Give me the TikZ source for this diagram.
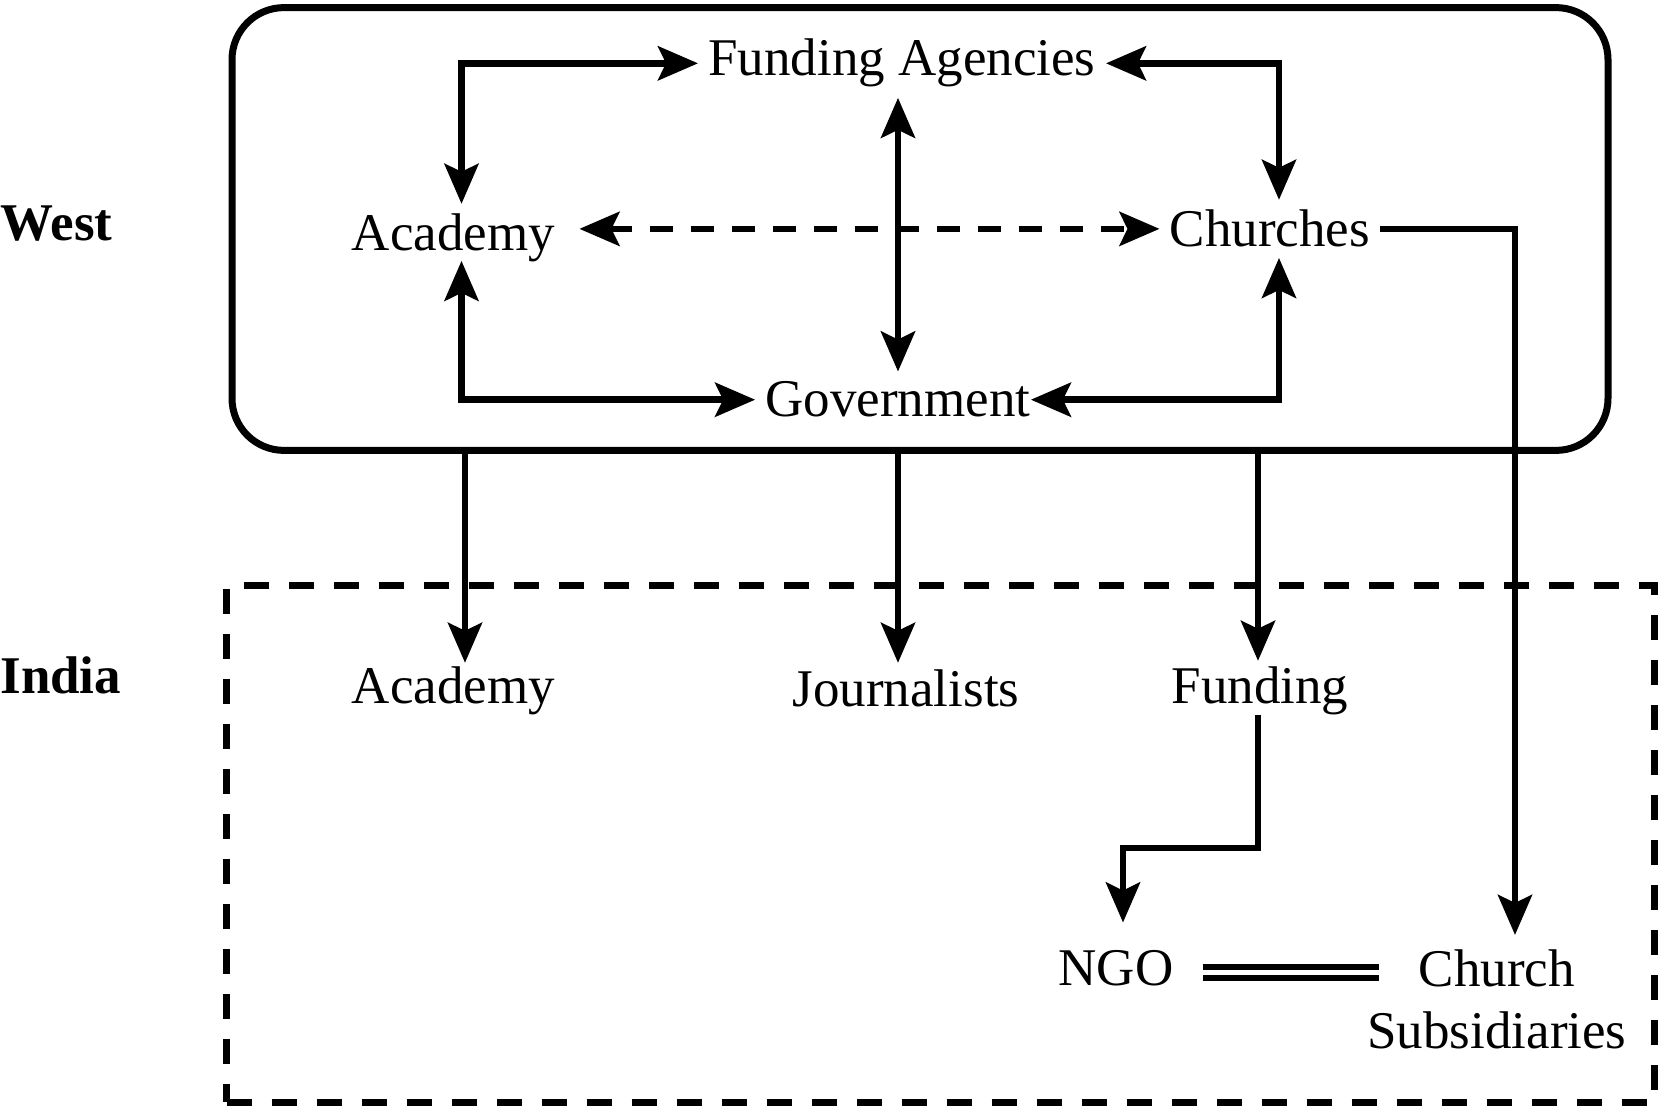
\documentclass[tikz,border=0pt]{standalone}
\usepackage{fontspec}
\setmainfont{Liberation Serif}
\usetikzlibrary{arrows.meta,calc}
\begin{document}
\begin{tikzpicture}[x=0.5pt,y=-0.5pt,
  >={Stealth[length=20pt,width=17pt,inset=4pt]},
  lab/.style={font=\fontsize{26.5}{31}\selectfont, inner sep=5pt},
  reg/.style={font=\fontsize{26.5}{31}\selectfont\bfseries, inner sep=0pt},
  conn/.style={line width=3.25pt},
  wbox/.style={draw, line width=3.5pt, rounded corners=26pt, outer sep=0pt, inner sep=0pt},
  ibox/.style={draw, line width=3.5pt, dash pattern=on 12.5pt off 10pt, outer sep=0pt, inner sep=0pt},
  dashconn/.style={line width=3.25pt, dash pattern=on 11.5pt off 9pt},
  dbl/.style={double, line width=3.25pt, double distance=2.25pt}
]
\useasboundingbox (0,0) rectangle (1667,1117);

% regions
\node[wbox, minimum width=688pt, minimum height=221.4pt] (wb) at (920,229) {};
\node[ibox, minimum width=714pt, minimum height=258pt] (ib) at (940.5,844) {};

% labels
\node[reg, anchor=base west] (west) at (0,241) {West};
\node[reg, anchor=base west] (india) at (0,694) {India};

% nodes
\node[lab, anchor=base] (fa) at (902,76) {Funding Agencies};
\node[lab, anchor=base] (acad) at (453.5,251) {Academy};
\node[lab, anchor=base] (ch) at (1270,247) {Churches};
\node[lab, anchor=base] (gov) at (898,417) {Government};
\node[lab, anchor=base] (acadI) at (453.5,704) {Academy};
\node[lab, anchor=base] (jour) at (906,707) {Journalists};
\node[lab, anchor=base] (fund) at (1260,704) {Funding};
\node[lab, anchor=base] (ngo) at (1116,985) {NGO};
\node[lab, align=center] (cs) at (1497,999) {Church\\Subsidiaries};

% West connectors
\draw[conn,<->] ($(acad.north)+(8,0)$) |- (fa.west);
\draw[conn,<->] (fa.east) -| ($(ch.north)+(9,0)$);
\draw[conn,<->] (fa.south -| gov.north) -- (gov.north);
\draw[dashconn,<->, shorten <=7pt] (acad.east |- ch.west) -- (ch.west);
\draw[conn,<->] ($(acad.south)+(8,-12)$) |- (gov.west);
\draw[conn,<->] ($(ch.south)+(9,0)$) |- ($(gov.east)+(-10,0)$);
\draw[conn,->] (ch.east) -| ($(cs.north)+(18,-4)$);

% West -> India
\draw[conn,->] ($(acadI.north |- wb.south)+(11.5,0)$) -- ($(acadI.north)+(11.5,6)$);
\draw[conn,->] ($(jour.north |- wb.south)+(-8,0)$) -- ($(jour.north)+(-8,3)$);
\draw[conn,->] ($(fund.north |- wb.south)+(-2,0)$) -- ($(fund.north)+(-2,4)$);

% India
\draw[conn,->] ($(fund.south)+(-2,-11)$) -- ++(0,133) -| ($(ngo.north)+(7,-17)$);
\draw[dbl] ($(ngo.east)+(19,5)$) -- ($(ngo.east -| cs.west)+(22,5)$);
\end{tikzpicture}
\end{document}
